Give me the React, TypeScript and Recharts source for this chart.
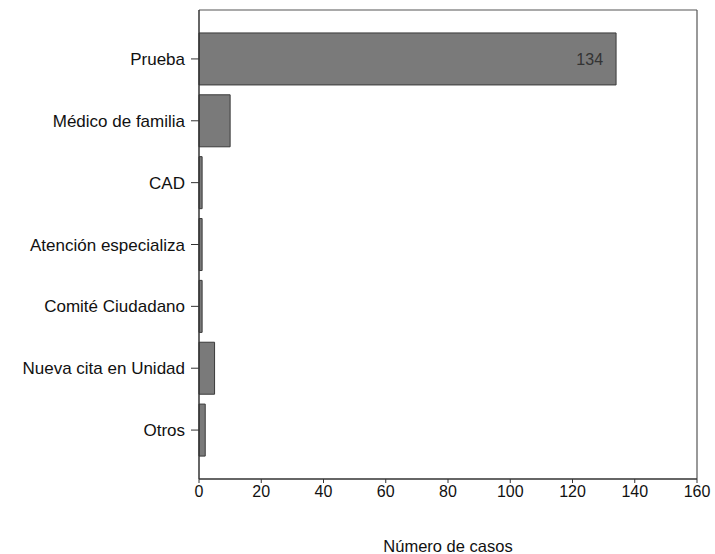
import React from 'react';
import { BarChart, Bar, XAxis, YAxis, LabelList, CartesianGrid } from 'recharts';

const categories = [
  'Prueba',
  'Médico de familia',
  'CAD',
  'Atención especializa',
  'Comité Ciudadano',
  'Nueva cita en Unidad',
  'Otros',
];
const casos = [134, 10, 1, 1, 1, 5, 2];
const xTicks = [0, 20, 40, 60, 80, 100, 120, 140, 160];

const data = categories.map((name, i) => ({ name, casos: casos[i] }));

const FONT = '"Liberation Sans", Arial, sans-serif';

export default function App() {
  return (
    <div style={{ position: 'absolute', left: 0, top: 0, background: '#fff' }}>
      <BarChart
        width={715}
        height={554}
        data={data}
        layout="vertical"
        margin={{ top: 10, right: 18, left: 0, bottom: 0 }}
        barCategoryGap="8%"
        style={{ fontFamily: FONT }}
      >
        <CartesianGrid
          stroke="#555"
          strokeWidth={1.2}
          horizontalCoordinatesGenerator={({ offset }: any) => [offset.top]}
          verticalCoordinatesGenerator={({ offset }: any) => [offset.left + offset.width]}
        />
        <XAxis
          type="number"
          dataKey="casos"
          domain={[0, 160]}
          ticks={xTicks}
          interval={0}
          height={75}
          tickSize={4}
          tickMargin={3}
          tick={{ fontSize: 16, fill: '#111', fontFamily: FONT }}
          axisLine={{ stroke: '#333', strokeWidth: 1.5 }}
          tickLine={{ stroke: '#333' }}
          label={{
            value: 'Número de casos',
            position: 'insideBottom',
            offset: 2,
            fontSize: 16.5,
            fill: '#111',
            fontFamily: FONT,
          }}
        />
        <YAxis
          type="category"
          dataKey="name"
          width={199}
          padding={{ top: 18, bottom: 18 }}
          tickSize={8}
          tickMargin={6}
          tick={{ fontSize: 17, fill: '#111', fontFamily: FONT }}
          axisLine={{ stroke: '#333', strokeWidth: 1.5 }}
          tickLine={{ stroke: '#333' }}
        />
        <Bar
          dataKey="casos"
          fill="#7a7a7a"
          stroke="#3a3a3a"
          strokeWidth={1}
          isAnimationActive={false}
        >
          <LabelList
            dataKey="casos"
            position="insideRight"
            offset={13}
            formatter={(v: any) => (v >= 100 ? v : '')}
            style={{ fontSize: 16, fill: '#333', fontFamily: FONT }}
          />
        </Bar>
      </BarChart>
    </div>
  );
}
